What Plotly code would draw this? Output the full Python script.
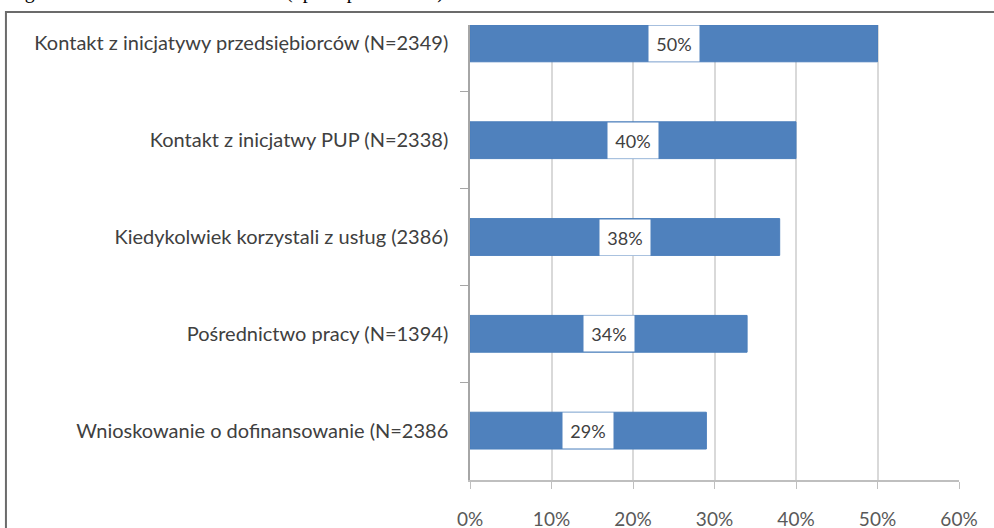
import plotly.graph_objects as go

# Odsetek pracodawców wg rodzaju kontaktu z PUP
categories = [
    'Kontakt z inicjatywy przedsiębiorców (N=2349)',
    'Kontakt z inicjatwy PUP (N=2338)',
    'Kiedykolwiek korzystali z usług (2386)',
    'Pośrednictwo pracy (N=1394)',
    'Wnioskowanie o dofinansowanie (N=2386',
]
values = [0.50, 0.40, 0.38, 0.34, 0.29]
x_ticks = [0, 0.1, 0.2, 0.3, 0.4, 0.5, 0.6]
x_tick_labels = ['0%', '10%', '20%', '30%', '40%', '50%', '60%']
caption = 'Figure 18. Kontakt z PUP – ocena (np. z opinii ankiet)'

BAR_BLUE = '#4f81bd'
TEXT_GREY = '#404040'
FONT = 'Lato, Carlito, Calibri, sans-serif'

fig = go.Figure()

fig.add_trace(go.Bar(
    x=values,
    y=categories,
    orientation='h',
    width=0.38,
    marker=dict(color=BAR_BLUE, line=dict(color='#4a7ebb', width=1)),
    hoverinfo='skip',
))

# white boxed data labels in the middle of each bar
labels = []
for cat, v in zip(categories, values):
    labels.append(dict(
        x=v / 2, y=cat, xref='x', yref='y',
        text=f'{round(v * 100)}%',
        showarrow=False,
        bgcolor='white',
        width=48, height=33,
        font=dict(family=FONT, size=18, color=TEXT_GREY),
    ))

# caption of the page, cut off at the top of the crop
labels.append(dict(
    x=-0.949, y=1.0286, xref='paper', yref='paper',
    xanchor='left', yanchor='bottom', yshift=7,
    text=caption, showarrow=False,
    font=dict(family='Liberation Serif, Times New Roman, serif', size=20, color='black'),
))

fig.update_layout(
    width=994, height=528,
    margin=dict(l=470, r=35, t=25, b=48),
    paper_bgcolor='white',
    plot_bgcolor='white',
    showlegend=False,
    font=dict(family=FONT, size=20, color=TEXT_GREY),
    annotations=labels,
    shapes=[dict(
        type='rect', xref='paper', yref='paper',
        x0=-0.949, x1=1.5, y0=-1.0, y1=1.0286,
        line=dict(color='#6b6b6b', width=2),
        layer='above',
    )],
)

fig.update_xaxes(
    range=[0, 0.6],
    tickvals=x_ticks,
    ticktext=x_tick_labels,
    showgrid=True, gridcolor='#d9d9d9', gridwidth=1.5,
    showline=True, linecolor='#bfbfbf', linewidth=1.5,
    ticks='outside', ticklen=7, tickcolor='#bfbfbf',
    ticklabelstandoff=14,
    tickfont=dict(family=FONT, size=19, color='#595959'),
    zeroline=False,
    automargin=False,
    fixedrange=True,
)

fig.update_yaxes(
    type='category',
    categoryorder='array', categoryarray=categories,
    range=[4.51, -0.19],
    showline=True, linecolor='#a6a6a6', linewidth=1.5,
    ticks='outside', ticklen=8, tickcolor='#a6a6a6',
    tickson='boundaries',
    ticklabelstandoff=16,
    showgrid=False,
    tickfont=dict(family=FONT, size=20, color=TEXT_GREY),
    automargin=False,
    fixedrange=True,
)

# page has a default 8px body margin; drop it so the figure fills the window
fig.write_html(
    'out.html',
    config={'displayModeBar': False},
    post_script="document.body.style.margin = '0';",
)
